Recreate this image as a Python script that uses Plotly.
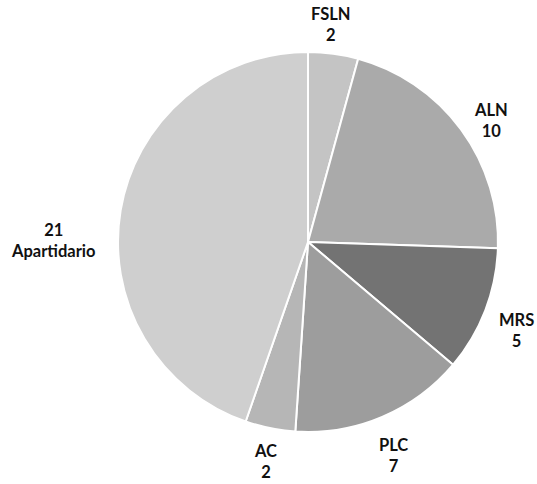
import plotly.graph_objects as go

parties = ["FSLN", "ALN", "MRS", "PLC", "AC", "Apartidario"]
seats = [2, 10, 5, 7, 2, 21]
colors = ["#c4c4c4", "#aaaaaa", "#737373", "#9d9d9d", "#b6b6b6", "#cfcfcf"]

W, H = 537, 484

fig = go.Figure(
    go.Pie(
        labels=parties,
        values=seats,
        textinfo="none",
        sort=False,
        direction="clockwise",
        rotation=0,
        marker=dict(colors=colors, line=dict(color="white", width=2)),
        hoverinfo="label+value",
        showlegend=False,
        domain=dict(x=[118 / W, 498 / W], y=[1 - 432 / H, 1 - 52 / H]),
    )
)

# Two-line labels beside each slice (pixel centres of the label block)
label_pos = {
    "FSLN": (331, 24),
    "ALN": (491, 120),
    "MRS": (516, 330),
    "PLC": (393, 455),
    "AC": (265, 461),
    "Apartidario": (53, 240),
}
font = dict(family="Lato", size=16.5, color="#111111", weight="bold")
for party, n in zip(parties, seats):
    text = f"{n}<br>{party}" if party == "Apartidario" else f"{party}<br>{n}"
    cx, cy = label_pos[party]
    fig.add_annotation(
        x=cx / W, y=1 - cy / H, xref="paper", yref="paper",
        text=text, showarrow=False, xanchor="center", yanchor="middle",
        align="center", font=font,
    )

fig.update_layout(
    width=W,
    height=H,
    margin=dict(l=0, r=0, t=0, b=0),
    paper_bgcolor="white",
    plot_bgcolor="white",
)
fig.write_html("out.html")
